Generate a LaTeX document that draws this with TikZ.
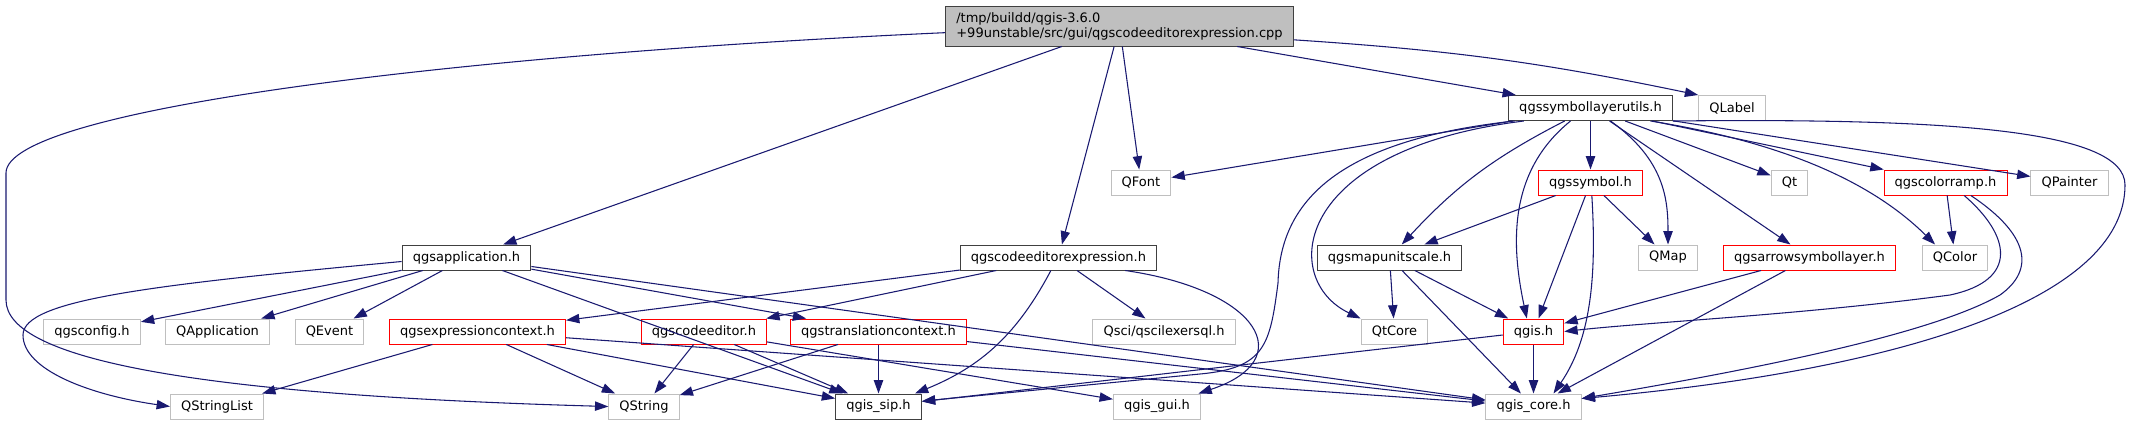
\documentclass[tikz,border=0pt]{standalone}
\usepackage{fontspec}
\setmainfont{DejaVu Sans}
\usepackage{tikz}
\usetikzlibrary{arrows.meta,positioning}
\definecolor{edgeblue}{HTML}{191970}
\definecolor{grayline}{HTML}{BFBFBF}
\definecolor{rootfill}{HTML}{BFBFBF}
\definecolor{redline}{HTML}{FF0000}
\definecolor{darkline}{HTML}{404040}

\begin{document}
\begin{tikzpicture}[x=0.75pt,y=-0.75pt,
    box/.style={rectangle,draw,line width=0.75pt,fill=white,inner xsep=8pt,inner ysep=0pt,minimum height=18.75pt,font=\fontsize{9.75}{11.25}\selectfont},
    graybox/.style={box,draw=grayline},
    redbox/.style={box,draw=redline},
    blackbox/.style={box,draw=darkline},
    dep/.style={draw=edgeblue,line width=0.8pt,-{Triangle[length=10pt,width=7pt]}}]
    \useasboundingbox (0,0) rectangle (2131,425);
    \node[blackbox,fill=rootfill,align=left,minimum height=30pt] (root) at (1119.5,26) {/tmp/buildd/qgis-3.6.0\\+99unstable/src/gui/qgscodeeditorexpression.cpp};
    \node[blackbox] (slu) at (1590.5,108) {qgssymbollayerutils.h};
    \node[graybox] (qlabel) at (1732,108) {QLabel};
    \node[graybox] (qfont) at (1141,182.5) {QFont};
    \node[redbox] (sym) at (1590.5,182.5) {qgssymbol.h};
    \node[graybox] (qt) at (1789.5,182.5) {Qt};
    \node[redbox] (cr) at (1945.5,182.5) {qgscolorramp.h};
    \node[graybox] (qpainter) at (2069.5,182.5) {QPainter};
    \node[blackbox] (app) at (466.5,257.5) {qgsapplication.h};
    \node[blackbox] (cee) at (1058.5,257.5) {qgscodeeditorexpression.h};
    \node[blackbox] (mus) at (1389.5,257.5) {qgsmapunitscale.h};
    \node[graybox] (qmap) at (1668,257.5) {QMap};
    \node[redbox] (arr) at (1809.5,257.5) {qgsarrowsymbollayer.h};
    \node[graybox] (qcolor) at (1955,257.5) {QColor};
    \node[graybox] (qgsconfig) at (92,331.5) {qgsconfig.h};
    \node[graybox] (qapp) at (217.5,331.5) {QApplication};
    \node[graybox] (qevent) at (329.5,331.5) {QEvent};
    \node[redbox] (ec) at (477.5,331.5) {qgsexpressioncontext.h};
    \node[redbox] (ce) at (704,331.5) {qgscodeeditor.h};
    \node[redbox] (tc) at (878.5,331.5) {qgstranslationcontext.h};
    \node[graybox] (qsci) at (1164,331.5) {Qsci/qscilexersql.h};
    \node[graybox] (qtcore) at (1394.5,331.5) {QtCore};
    \node[redbox] (qgis) at (1533.5,331.5) {qgis.h};
    \node[graybox] (qsl) at (217,406.5) {QStringList};
    \node[graybox] (qstring) at (644,406.5) {QString};
    \node[blackbox] (sip) at (878.5,406.5) {qgis\_sip.h};
    \node[graybox] (gui) at (1157,406.5) {qgis\_gui.h};
    \node[graybox] (core) at (1533.5,406.5) {qgis\_core.h};
    \draw[dep] (root) -- (app);
    \draw[dep] (root) -- (cee);
    \draw[dep] (root) -- (qfont);
    \draw[dep] (root) -- (slu);
    \draw[dep] ([yshift=5pt]root.south east) to[bend left=4] (qlabel.north west);
    \draw[dep] ([yshift=-5pt]root.west) .. controls (450,55) and (6,110) .. (6,173) -- (6,300) .. controls (6,360) and (200,395) .. (qstring.west);
    \draw[dep] (app) -- (qgsconfig);
    \draw[dep] (app) -- (qapp);
    \draw[dep] (app) -- (qevent);
    \draw[dep] ([yshift=-3pt]app.west) .. controls (150,285) and (23,300) .. (23,335) .. controls (23,370) and (90,395) .. (qsl.west);
    \draw[dep] (app) -- (tc);
    \draw[dep] (app) -- (sip);
    \draw[dep] (app) -- (core);
    \draw[dep] (cee) -- (ec);
    \draw[dep] (cee) -- (ce);
    \draw[dep] (cee) to[bend left=20] (sip);
    \draw[dep] (cee) -- (qsci);
    \draw[dep] ([xshift=50pt]cee.south) .. controls (1260,290) and (1300,360) .. ([xshift=-2pt]gui.north east);
    \draw[dep] (ec) -- (qsl);
    \draw[dep] (ec) -- (qstring);
    \draw[dep] (ec) -- (sip);
    \draw[dep] (ec) -- (core);
    \draw[dep] (ce) -- (qstring);
    \draw[dep] (ce) -- (sip);
    \draw[dep] (ce) -- (gui);
    \draw[dep] (tc) -- (qstring);
    \draw[dep] (tc) -- (sip);
    \draw[dep] (tc) -- (core);
    \draw[dep] (slu) -- (qfont);
    \draw[dep] ([xshift=-57pt]slu.south) .. controls (1340,140) and (1280,200) .. (1278,283) .. controls (1270,345) and (1265,368) .. (1200,374) -- ([yshift=4pt]sip.east);
    \draw[dep] ([xshift=-50pt]slu.south) .. controls (1290,150) and (1280,280) .. (qtcore.north west);
    \draw[dep] (slu) to[bend right=10] (mus);
    \draw[dep] ([xshift=-15pt]slu.south) .. controls (1510,170) and (1510,240) .. ([xshift=-5pt]qgis.north);
    \draw[dep] (slu) -- (sym);
    \draw[dep] ([xshift=15pt]slu.south) .. controls (1665,160) and (1668,200) .. (qmap.north);
    \draw[dep] (slu) -- (arr);
    \draw[dep] (slu) -- (qt);
    \draw[dep] ([xshift=45pt]slu.south) .. controls (1800,145) and (1880,190) .. ([xshift=10pt]qcolor.north west);
    \draw[dep] (slu) -- (cr);
    \draw[dep] (slu) -- (qpainter);
    \draw[dep] (slu.south east) .. controls (1950,118) and (2125,130) .. (2125,185) .. controls (2125,300) and (1900,370) .. ([yshift=6pt]core.east);
    \draw[dep] (cr) -- (qcolor);
    \draw[dep] ([xshift=14pt]cr.south) .. controls (2010,235) and (2020,280) .. (1950,295) .. controls (1800,315) and (1650,322) .. (qgis.east);
    \draw[dep] ([xshift=19pt]cr.south) .. controls (2030,235) and (2035,270) .. (2000,295) .. controls (1930,335) and (1750,370) .. ([yshift=6pt]core.east);
    \draw[dep] (sym) -- (mus);
    \draw[dep] (sym) -- (qgis);
    \draw[dep] ([xshift=1pt]sym.south) .. controls (1597,280) and (1590,340) .. ([xshift=15pt]core.north);
    \draw[dep] (sym) -- (qmap);
    \draw[dep] (mus) -- (qtcore);
    \draw[dep] (mus) -- (qgis);
    \draw[dep] (mus) -- (core);
    \draw[dep] (arr) -- (qgis);
    \draw[dep] (arr) -- (core);
    \draw[dep] (qgis) -- (core);
    \draw[dep] (qgis) -- (sip);
\end{tikzpicture}
\end{document}
